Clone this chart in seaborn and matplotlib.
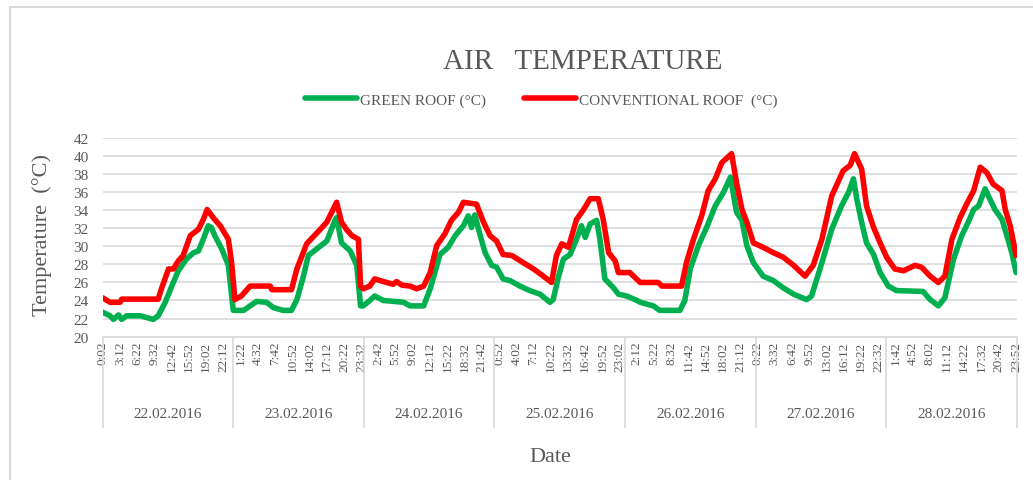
import matplotlib
matplotlib.use("Agg")
import matplotlib.pyplot as plt
import matplotlib.lines as mlines
import matplotlib.transforms as mtransforms
import pandas as pd
import seaborn as sns

# hours since 22.02.2016 0:00 and temperature
green_hours = [0, 1.35, 1.96, 2.9, 3.5, 4.4, 6.9, 9.3, 10.2, 11.5, 12.7, 13.9, 15.4, 16.7,
               17.6, 18.5, 19.4, 20.0, 20.6, 21.9, 23.1, 24.0, 25.9, 27.1, 28.3, 30.1, 31.4,
               33.2, 34.7, 35.7, 36.9, 37.8, 39.3, 41.2, 42.7, 43.0, 43.9, 45.5, 46.7, 47.4,
               47.9, 49.1, 50.0, 51.6, 55.3, 56.5, 59.0, 60.2, 62.0, 63.5, 64.8, 66.3, 67.2,
               67.8, 68.4, 69.4, 70.3, 71.5, 72.4, 73.6, 74.9, 76.7, 78.5, 80.4, 82.2, 82.8,
               83.8, 84.7, 85.9, 87.1, 88.0, 88.7, 89.6, 90.8, 91.4, 92.3, 93.9, 94.8, 96.3,
               98.2, 98.8, 101.2, 102.4, 106.1, 107.0, 108.0, 109.5, 111.0, 112.6, 114.1,
               115.4, 116.5, 117.5, 118.4, 119.6, 121.4, 123.3, 125.1, 127.0, 129.4, 130.3,
               132.2, 134.0, 135.8, 137.1, 138.0, 138.6, 139.5, 140.4, 141.7, 142.9, 144.4,
               145.9, 150.8, 152.1, 153.6, 154.8, 156.4, 157.9, 159.1, 160.1, 161.0, 162.2,
               162.8, 164.0, 165.3, 166.2, 167.1, 167.9]
green_temp = [22.7, 22.3, 21.9, 22.4, 21.9, 22.3, 22.3, 21.9, 22.3, 23.8, 25.6, 27.3, 28.6, 29.3,
              29.5, 30.8, 32.3, 32.1, 31.2, 29.7, 27.9, 22.9, 22.9, 23.4, 23.9, 23.8, 23.2,
              22.9, 22.9, 24.1, 26.7, 29.0, 29.7, 30.6, 32.9, 33.2, 30.4, 29.5, 27.9, 23.4,
              23.4, 24.0, 24.5, 24.0, 23.8, 23.4, 23.4, 25.3, 29.1, 29.9, 31.2, 32.3, 33.4,
              32.1, 33.5, 31.2, 29.3, 27.9, 27.7, 26.4, 26.2, 25.6, 25.1, 24.7, 23.8, 24.1,
              26.7, 28.6, 29.1, 30.8, 32.3, 31.0, 32.5, 32.9, 30.8, 26.4, 25.4, 24.7, 24.5,
              24.0, 23.8, 23.4, 22.9, 22.9, 24.0, 27.5, 30.1, 32.1, 34.5, 36.0,
              37.7, 33.8, 32.9, 30.1, 28.2, 26.7, 26.2, 25.4, 24.7, 24.1, 24.5,
              28.2, 31.9, 34.5, 36.0, 37.5, 35.3, 32.7, 30.4, 29.1, 27.1, 25.6,
              25.1, 25.0, 24.1, 23.4, 24.3, 28.6, 31.2, 32.7, 34.1, 34.5, 36.4,
              35.6, 34.1, 33.0, 31.2, 29.3, 27.1]

red_hours = [0, 1.35, 3.2, 3.5, 10.2, 10.8, 12.1, 13.0, 13.9, 14.8, 16.1, 17.6, 18.5, 19.2,
             20.3, 21.6, 23.1, 23.7, 24.3, 25.5, 27.1, 30.8, 31.1, 34.7, 35.7, 37.5, 40.0,
             41.2, 43.0, 43.9, 44.8, 45.8, 47.0, 47.4, 47.9, 49.1, 50.0, 51.6, 53.4, 54.0,
             55.0, 56.5, 57.7, 59.0, 60.2, 61.4, 62.9, 64.1, 65.4, 66.3, 68.7, 70.0, 71.2,
             72.4, 73.6, 75.2, 77.3, 79.2, 81.0, 82.5, 83.4, 84.4, 85.6, 87.1, 88.4, 89.6,
             91.1, 92.0, 93.0, 94.2, 94.8, 96.9, 98.8, 102.1, 102.8, 106.4, 107.3, 108.6,
             110.1, 111.3, 112.6, 113.8, 115.6, 116.5, 117.5, 118.4, 119.6, 121.4, 123.3,
             125.1, 127.0, 129.1, 130.6, 132.2, 134.0, 136.1, 137.4, 138.2, 139.5, 140.4,
             141.7, 142.9, 144.1, 145.6, 147.2, 149.3, 150.5, 152.1, 153.6, 154.8, 156.1,
             157.6, 158.8, 160.1, 161.3, 162.5, 163.7, 165.3, 165.9, 166.8, 167.9]
red_temp = [24.3, 23.8, 23.8, 24.15, 24.15, 25.3, 27.5, 27.5, 28.4, 29.0, 31.2, 31.9, 33.0, 34.1,
            33.2, 32.3, 30.8, 28.2, 24.1, 24.5, 25.6, 25.6, 25.2, 25.2, 27.5, 30.3, 31.9,
            32.7, 34.9, 32.7, 31.9, 31.2, 30.8, 25.6, 25.3, 25.6, 26.4, 26.1, 25.8, 26.1,
            25.7, 25.6, 25.3, 25.6, 27.1, 30.1, 31.4, 32.9, 33.8, 34.9, 34.7, 32.7, 31.2,
            30.6, 29.1, 29.0, 28.2, 27.5, 26.7, 26.0, 29.0, 30.3, 29.9, 33.0, 34.1, 35.3,
            35.3, 33.0, 29.3, 28.4, 27.1, 27.1, 26.0, 26.0, 25.6, 25.6, 28.2, 30.8,
            33.4, 36.2, 37.5, 39.3, 40.3, 37.1, 34.1, 32.7, 30.4, 29.9, 29.3,
            28.8, 27.9, 26.7, 27.9, 30.8, 35.6, 38.4, 39.0, 40.3, 38.6, 34.5,
            32.1, 30.4, 28.8, 27.5, 27.3, 27.9, 27.7, 26.7, 26.0, 26.7, 30.8,
            33.2, 34.7, 36.2, 38.8, 38.2, 36.9, 36.2, 34.1, 32.3, 29.0]

time_labels = ["0:02", "3:12", "6:22", "9:32", "12:42", "15:52", "19:02", "22:12",
               "1:22", "4:32", "7:42", "10:52", "14:02", "17:12", "20:22", "23:32",
               "2:42", "5:52", "9:02", "12:12", "15:22", "18:32", "21:42",
               "0:52", "4:02", "7:12", "10:22", "13:32", "16:42", "19:52", "23:02",
               "2:12", "5:22", "8:32", "11:42", "14:52", "18:02", "21:12",
               "0:22", "3:32", "6:42", "9:52", "13:02", "16:12", "19:22", "22:32",
               "1:42", "4:52", "8:02", "11:12", "14:22", "17:32", "20:42", "23:52"]
dates = ["22.02.2016", "23.02.2016", "24.02.2016", "25.02.2016",
         "26.02.2016", "27.02.2016", "28.02.2016"]

green_name = "GREEN ROOF (°C)"
red_name = "CONVENTIONAL ROOF  (°C)"

df = pd.concat([
    pd.DataFrame({"hours": green_hours, "temp": green_temp, "series": green_name}),
    pd.DataFrame({"hours": red_hours, "temp": red_temp, "series": red_name}),
])

# tick positions from the labels, a new day starts when the clock goes back
tick_pos = []
day = 0
prev = -1
for lab in time_labels:
    h, m = lab.split(":")
    v = int(h) + int(m) / 60
    if v < prev:
        day += 1
    prev = v
    tick_pos.append(day * 24 + v)

sns.set_style("white")
plt.rcParams["font.family"] = ["Liberation Serif", "DejaVu Serif"]
txt = "#595959"
grid = "#d9d9d9"
colors = {green_name: "#00B050", red_name: "#FF0000"}

fig = plt.figure(figsize=(10.33, 4.81), dpi=100)
ax = fig.add_axes([0.0994, 0.2983, 0.8848, 0.412])

sns.lineplot(data=df, x="hours", y="temp", hue="series", palette=colors,
             linewidth=4.0, ax=ax, legend=False, estimator=None, sort=False)

ax.set_xlim(0, 168)
ax.set_ylim(20, 42)
ax.set_yticks(range(20, 43, 2))
ax.yaxis.grid(True, color=grid, linewidth=1.2)
ax.set_axisbelow(True)
for s in ["top", "right", "left"]:
    ax.spines[s].set_visible(False)
ax.spines["bottom"].set_color(grid)
ax.spines["bottom"].set_linewidth(1.2)
ax.tick_params(axis="y", length=0, pad=10, labelsize=11, labelcolor=txt)

ax.set_xticks(tick_pos)
ax.set_xticklabels(time_labels, rotation=90, fontsize=9.5, color=txt)
ax.tick_params(axis="x", length=0, pad=3)
ax.set_xlabel("")
ax.set_ylabel("")

# grouped date axis below the time labels
trans = mtransforms.blended_transform_factory(ax.transData, ax.transAxes)
ax.vlines([24 * i for i in range(len(dates) + 1)], -0.46, 0, transform=trans,
          colors=grid, linewidth=1.2, clip_on=False)
for i, d in enumerate(dates):
    ax.text(24 * i + 12, -0.39, d, transform=trans, ha="center", va="center",
            fontsize=11, color=txt)

fig.text(0.041, 0.512, "Temperature  (°C)", rotation=90, ha="center", va="center",
         fontsize=16, color=txt)
fig.text(0.533, 0.048, "Date", ha="center", va="center", fontsize=16, color=txt)
fig.text(0.564, 0.871, "AIR   TEMPERATURE", ha="center", va="center", fontsize=21, color=txt)

handles = [mlines.Line2D([], [], color=colors[green_name], linewidth=4, solid_capstyle="round"),
           mlines.Line2D([], [], color=colors[red_name], linewidth=4, solid_capstyle="round")]
leg = fig.legend(handles, [green_name, red_name], loc="center", bbox_to_anchor=(0.524, 0.79),
                 ncol=2, frameon=False, fontsize=11, handlelength=3.4, handletextpad=0.2,
                 columnspacing=2.5)
for t in leg.get_texts():
    t.set_color(txt)

# chart border (only top and left edges show in the picture)
fig.add_artist(mlines.Line2D([9.5 / 1033, 9.5 / 1033], [0, 1 - 7.5 / 481], color=grid,
                             linewidth=1.5, transform=fig.transFigure))
fig.add_artist(mlines.Line2D([9.5 / 1033, 1], [1 - 7.5 / 481, 1 - 7.5 / 481], color=grid,
                             linewidth=1.5, transform=fig.transFigure))

fig.savefig("out.png", dpi=100)
